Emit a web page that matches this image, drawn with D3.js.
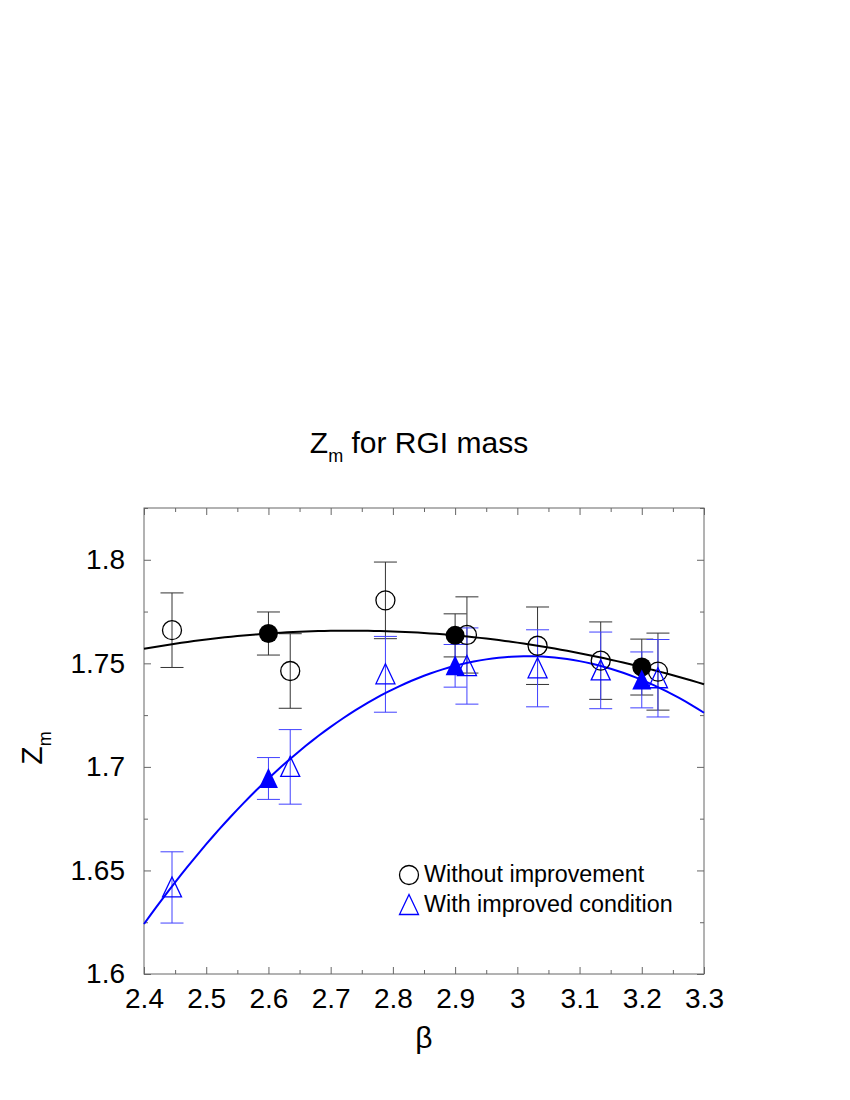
<!DOCTYPE html>
<html>
<head>
<meta charset="utf-8">
<script src="https://cdn.jsdelivr.net/npm/d3@7"></script>
<style>
  body { margin: 0; background: #fff; }
  text { font-family: "Liberation Sans", Arial, Helvetica, sans-serif; }
</style>
</head>
<body>
<div id="chart"></div>
<script>
// Z_m for RGI mass, plain vs improved condition

// open symbols
let betaOpen = [2.445, 2.635, 2.788, 2.919, 3.0325, 3.134, 3.226]
let zWithout = [1.766, 1.7463, 1.7804, 1.7637, 1.7585, 1.7513, 1.746]
let errWithout = [0.018, 0.018, 0.0185, 0.0184, 0.0187, 0.0187, 0.0186]
let zImproved = [1.6418, 1.700, 1.7447, 1.7487, 1.7476, 1.7466, 1.7428]
let errImproved = [0.0172, 0.018, 0.0183, 0.0184, 0.0186, 0.0185, 0.0187]

// filled symbols (interpolated to round beta), also used for the fit curves
let betaFilled = [2.6, 2.9, 3.2]
let zWithoutFilled = [1.7644, 1.7635, 1.7482]
let errWithoutFilled = [0.0104, 0.0104, 0.0135]
let zImprovedFilled = [1.6944, 1.7488, 1.742]
let errImprovedFilled = [0.0101, 0.0103, 0.0135]

let xTicks = [2.4, 2.5, 2.6, 2.7, 2.8, 2.9, 3.0, 3.1, 3.2, 3.3]
let yTicks = [1.6, 1.65, 1.7, 1.75, 1.8]

let width = 850, height = 1100
let mLeft = 144, mRight = 704, mTop = 508, mBottom = 974

let svg = d3.select("#chart")
  .append("svg")
  .attr("width", width)
  .attr("height", height)

let x = d3.scaleLinear().domain([2.4, 3.3]).range([mLeft, mRight])
let y = d3.scaleLinear().domain([1.6, 1.825]).range([mBottom, mTop])

let fmt = d => String(+d.toFixed(2))
let axisColor = "#666"

// minor ticks halfway between majors
let xMinor = d3.range(0, 9).map(i => 2.45 + i * 0.1)
let yMinor = d3.range(0, 5).map(i => 1.625 + i * 0.05)

function styleAxis(g) {
  g.select(".domain").remove()
  g.selectAll("line").attr("stroke", axisColor)
}

// major ticks
svg.append("g").attr("transform", `translate(0,${mBottom})`)
  .call(d3.axisBottom(x).tickValues(xTicks).tickSize(-7).tickPadding(14).tickFormat(fmt))
  .call(styleAxis)
svg.append("g").attr("transform", `translate(0,${mTop})`)
  .call(d3.axisTop(x).tickValues(xTicks).tickSize(-7).tickFormat(""))
  .call(styleAxis)
svg.append("g").attr("transform", `translate(${mLeft},0)`)
  .call(d3.axisLeft(y).tickValues(yTicks).tickSize(-7).tickPadding(19).tickFormat(fmt))
  .call(styleAxis)
svg.append("g").attr("transform", `translate(${mRight},0)`)
  .call(d3.axisRight(y).tickValues(yTicks).tickSize(-7).tickFormat(""))
  .call(styleAxis)

// minor ticks
svg.append("g").attr("transform", `translate(0,${mBottom})`)
  .call(d3.axisBottom(x).tickValues(xMinor).tickSize(-4).tickFormat(""))
  .call(styleAxis)
svg.append("g").attr("transform", `translate(0,${mTop})`)
  .call(d3.axisTop(x).tickValues(xMinor).tickSize(-4).tickFormat(""))
  .call(styleAxis)
svg.append("g").attr("transform", `translate(${mLeft},0)`)
  .call(d3.axisLeft(y).tickValues(yMinor).tickSize(-4).tickFormat(""))
  .call(styleAxis)
svg.append("g").attr("transform", `translate(${mRight},0)`)
  .call(d3.axisRight(y).tickValues(yMinor).tickSize(-4).tickFormat(""))
  .call(styleAxis)

svg.selectAll(".tick text")
  .attr("font-size", 28)
  .attr("fill", "#000")
  .attr("font-family", "Liberation Sans, Arial, sans-serif")

// frame
svg.append("rect")
  .attr("x", mLeft).attr("y", mTop)
  .attr("width", mRight - mLeft).attr("height", mBottom - mTop)
  .attr("fill", "none")
  .attr("stroke", axisColor)
  .attr("stroke-width", 1)

// build point lists
let openWithout = betaOpen.map((b, i) => ({b: b, z: zWithout[i], e: errWithout[i]}))
let openImproved = betaOpen.map((b, i) => ({b: b, z: zImproved[i], e: errImproved[i]}))
let filledWithout = betaFilled.map((b, i) => ({b: b, z: zWithoutFilled[i], e: errWithoutFilled[i]}))
let filledImproved = betaFilled.map((b, i) => ({b: b, z: zImprovedFilled[i], e: errImprovedFilled[i]}))

let capHalf = 11.5

function errorBars(data, color) {
  let g = svg.append("g").attr("stroke", color).attr("stroke-width", 1).attr("fill", "none")
  g.selectAll(".v").data(data).enter().append("line")
    .attr("x1", d => x(d.b)).attr("x2", d => x(d.b))
    .attr("y1", d => y(d.z + d.e)).attr("y2", d => y(d.z - d.e))
  g.selectAll(".t").data(data).enter().append("line")
    .attr("x1", d => x(d.b) - capHalf).attr("x2", d => x(d.b) + capHalf)
    .attr("y1", d => y(d.z + d.e)).attr("y2", d => y(d.z + d.e))
  g.selectAll(".b").data(data).enter().append("line")
    .attr("x1", d => x(d.b) - capHalf).attr("x2", d => x(d.b) + capHalf)
    .attr("y1", d => y(d.z - d.e)).attr("y2", d => y(d.z - d.e))
}

errorBars(openWithout, "#333")
errorBars(filledWithout, "#333")
errorBars(openImproved, "#4040ff")
errorBars(filledImproved, "#4040ff")

// quadratic through the three filled points
function parabola(xs, ys) {
  return function(t) {
    let s = 0
    for (let i = 0; i < 3; i++) {
      let p = ys[i]
      for (let j = 0; j < 3; j++) {
        if (j !== i) p *= (t - xs[j]) / (xs[i] - xs[j])
      }
      s += p
    }
    return s
  }
}

let fitSteps = d3.range(0, 91).map(i => 2.4 + i * 0.01)
let line = d3.line().x(d => x(d[0])).y(d => y(d[1]))

let fitBlack = parabola(betaFilled, zWithoutFilled)
let fitBlue = parabola(betaFilled, zImprovedFilled)

svg.append("path")
  .attr("d", line(fitSteps.map(t => [t, fitBlack(t)])))
  .attr("fill", "none").attr("stroke", "#000").attr("stroke-width", 2)
svg.append("path")
  .attr("d", line(fitSteps.map(t => [t, fitBlue(t)])))
  .attr("fill", "none").attr("stroke", "#0000ff").attr("stroke-width", 2)

// markers
let tri = "M0,-10.5L9.5,9.5L-9.5,9.5Z"

svg.selectAll(".ocirc").data(openWithout).enter().append("circle")
  .attr("cx", d => x(d.b)).attr("cy", d => y(d.z)).attr("r", 9.5)
  .attr("fill", "none").attr("stroke", "#000").attr("stroke-width", 1.3)

svg.selectAll(".otri").data(openImproved).enter().append("path")
  .attr("d", tri)
  .attr("transform", d => `translate(${x(d.b)},${y(d.z)})`)
  .attr("fill", "none").attr("stroke", "#0000ff").attr("stroke-width", 1.3)

svg.selectAll(".fcirc").data(filledWithout).enter().append("circle")
  .attr("cx", d => x(d.b)).attr("cy", d => y(d.z)).attr("r", 9.5)
  .attr("fill", "#000")

svg.selectAll(".ftri").data(filledImproved).enter().append("path")
  .attr("d", tri)
  .attr("transform", d => `translate(${x(d.b)},${y(d.z)})`)
  .attr("fill", "#0000ff")

// legend
let legend = svg.append("g")
legend.append("circle")
  .attr("cx", 409).attr("cy", 875).attr("r", 9.5)
  .attr("fill", "none").attr("stroke", "#000").attr("stroke-width", 1.3)
legend.append("text")
  .attr("x", 424).attr("y", 882).attr("font-size", 23.3)
  .text("Without improvement")
legend.append("path")
  .attr("d", tri)
  .attr("transform", "translate(409,905)")
  .attr("fill", "none").attr("stroke", "#0000ff").attr("stroke-width", 1.3)
legend.append("text")
  .attr("x", 424).attr("y", 912).attr("font-size", 23.3)
  .text("With improved condition")

// title
let title = svg.append("text")
  .attr("x", (mLeft + mRight) / 2 - 5).attr("y", 453)
  .attr("text-anchor", "middle")
  .attr("font-size", 30)
title.append("tspan").text("Z")
title.append("tspan").attr("font-size", 18).attr("dy", 9).text("m")
title.append("tspan").attr("dy", -9).text(" for RGI mass")

// axis labels
svg.append("text")
  .attr("x", (mLeft + mRight) / 2).attr("y", 1048)
  .attr("text-anchor", "middle")
  .attr("font-size", 30)
  .attr("font-family", "Liberation Serif, Times New Roman, serif")
  .text("β")

let ylab = svg.append("text")
  .attr("transform", "translate(42,748) rotate(-90)")
  .attr("text-anchor", "middle")
  .attr("font-size", 30)
ylab.append("tspan").text("Z")
ylab.append("tspan").attr("font-size", 18).attr("dy", 9).text("m")
</script>
</body>
</html>
